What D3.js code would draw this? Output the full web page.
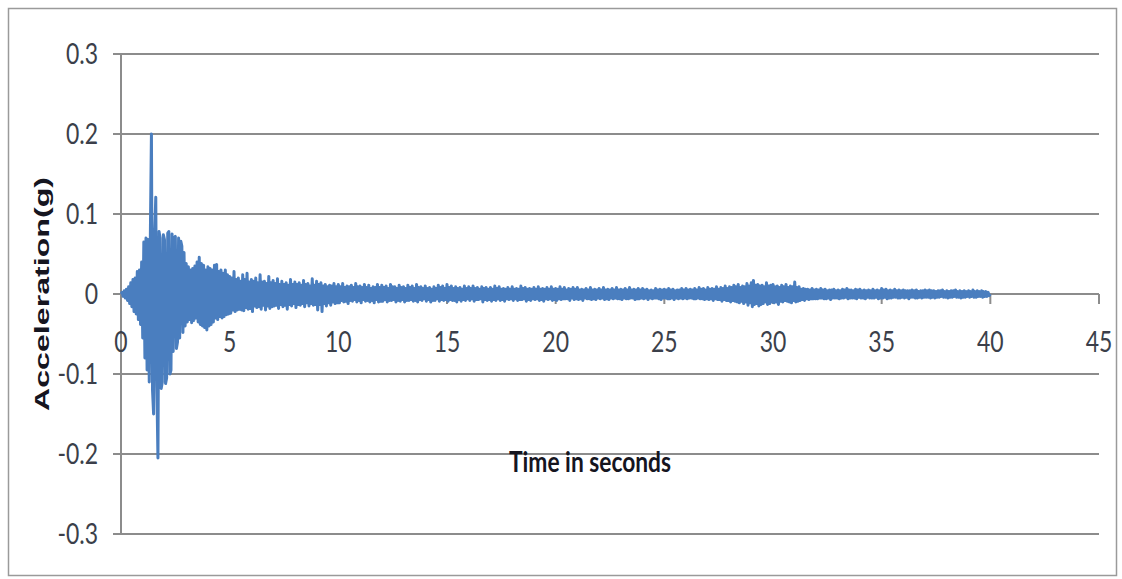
<!DOCTYPE html>
<html>
<head>
<meta charset="utf-8">
<script src="https://cdn.jsdelivr.net/npm/d3@7"></script>
<style>
  body { margin: 0; background: #fff; }
  svg { display: block; }
</style>
</head>
<body>
<svg width="1122" height="579"></svg>
<script>
const   svg = d3.select("svg"),
        width = +svg.attr("width"),
        height = +svg.attr("height");

// sample step in seconds
const dt = 0.05;
// acceleration in milli-g, one row per second (20 samples), last value at 40.0 s
const accel = [
    0, 2, -3, 4, -5, 6, -8, 9, -12, 14, -16, 18, -22, 20, -25, 28, -32, 30, -38, 40,
    -55, 65, -80, 70, -95, 68, -110, 72, 200, -120, -150, 75, 121, -115, -205, 78, 70, -118, -110, 74,
    68, -112, -105, 76, 78, -100, -95, 75, -72, 70, 72, -68, -60, 70, -55, 66, 60, -48, 52, -40,
    38, -35, 34, -32, 30, -36, 32, -33, 35, -30, 40, -35, 46, -38, 38, -40, 36, -42, 30, -45,
    34, -40, 32, -38, 30, -35, 36, -30, 37, -32, 28, -28, 30, -30, 26, -28, 30, -26, 24, -25,
    22, -24, 20, -20, 28, -22, 18, -20, 20, -19, 16, -20, 24, -21, 18, -17, 26, -19, 15, -18,
    18, -22, 16, -15, 20, -17, 14, -16, 24, -19, 15, -14, 16, -20, 13, -15, 22, -18, 14, -16,
    17, -15, 13, -14, 19, -18, 12, -13, 16, -16, 12, -14, 14, -19, 11, -13, 18, -15, 12, -12,
    15, -17, 12, -13, 14, -14, 11, -12, 17, -16, 12, -11, 13, -15, 10, -12, 19, -14, 11, -13,
    16, -20, 12, -13, 14, -22, 10, -12, 12, -15, 9, -11, 11, -14, 10, -10, 13, -12, 9, -11,
    12, -11, 9, -8, 13, -10, 8, -9, 10, -12, 9, -8, 11, -9, 8, -7, 13, -10, 9, -8,
    10, -11, 8, -7, 12, -9, 8, -8, 11, -10, 7, -8, 9, -11, 8, -7, 12, -10, 8, -9,
    11, -9, 8, -7, 10, -10, 7, -8, 12, -8, 9, -7, 9, -10, 7, -8, 11, -9, 8, -7,
    9, -10, 7, -8, 11, -8, 8, -7, 10, -9, 7, -8, 12, -10, 8, -7, 9, -8, 7, -6,
    10, -9, 7, -7, 8, -10, 6, -8, 9, -8, 7, -6, 11, -9, 8, -7, 10, -8, 7, -7,
    12, -9, 8, -7, 10, -8, 7, -8, 9, -10, 7, -7, 8, -9, 6, -7, 10, -8, 7, -6,
    9, -8, 7, -6, 10, -9, 7, -7, 8, -7, 6, -6, 9, -10, 7, -7, 8, -8, 6, -7,
    8, -9, 6, -7, 10, -8, 7, -6, 9, -8, 6, -7, 7, -9, 6, -6, 8, -7, 6, -6,
    9, -8, 6, -6, 7, -8, 6, -7, 10, -7, 7, -6, 8, -9, 6, -7, 7, -8, 6, -6,
    8, -7, 6, -6, 9, -8, 6, -7, 7, -9, 6, -6, 8, -7, 6, -6, 9, -8, 6, -7,
    7, -8, 6, -6, 9, -7, 6, -6, 8, -6, 5, -6, 7, -8, 6, -5, 8, -7, 6, -6,
    8, -7, 5, -6, 6, -8, 5, -5, 7, -6, 5, -6, 8, -7, 5, -6, 6, -7, 5, -5,
    7, -6, 5, -5, 8, -7, 5, -6, 6, -7, 5, -5, 7, -6, 5, -5, 8, -6, 5, -6,
    6, -7, 5, -5, 7, -6, 5, -6, 8, -5, 5, -5, 6, -7, 5, -6, 7, -6, 5, -5,
    7, -6, 5, -5, 6, -7, 4, -5, 5, -6, 4, -5, 7, -5, 5, -6, 6, -7, 5, -5,
    6, -5, 5, -6, 7, -6, 5, -5, 6, -7, 4, -5, 5, -6, 5, -5, 7, -6, 5, -5,
    7, -6, 5, -5, 6, -5, 5, -6, 7, -6, 5, -5, 8, -6, 6, -6, 7, -7, 5, -6,
    8, -7, 6, -6, 7, -8, 6, -6, 9, -7, 6, -7, 8, -9, 7, -7, 10, -8, 7, -8,
    9, -10, 8, -8, 11, -9, 9, -10, 12, -11, 8, -9, 10, -12, 9, -10, 13, -14, 10, -11,
    14, -16, 17, -13, 11, -12, 12, -15, 10, -13, 11, -12, 9, -10, 14, -13, 10, -12, 11, -10,
    12, -11, 9, -10, 10, -13, 8, -9, 11, -10, 9, -8, 12, -9, 8, -10, 10, -11, 9, -8,
    15, -10, 8, -9, 9, -8, 6, -7, 7, -8, 6, -6, 6, -7, 5, -6, 7, -6, 5, -6,
    6, -6, 5, -5, 7, -5, 5, -6, 6, -6, 4, -5, 5, -7, 5, -5, 6, -5, 4, -5,
    5, -6, 4, -5, 6, -5, 5, -4, 7, -6, 5, -5, 5, -5, 4, -5, 6, -6, 5, -4,
    6, -5, 4, -5, 5, -6, 4, -4, 5, -5, 4, -5, 6, -5, 4, -4, 5, -6, 4, -5,
    7, -5, 5, -4, 6, -6, 4, -5, 5, -5, 4, -4, 6, -4, 4, -5, 5, -5, 4, -4,
    5, -5, 4, -4, 4, -6, 4, -4, 5, -4, 4, -5, 5, -5, 3, -4, 4, -5, 4, -4,
    5, -4, 4, -4, 5, -5, 4, -4, 4, -5, 3, -4, 4, -4, 4, -3, 5, -4, 3, -4,
    4, -5, 3, -4, 4, -4, 4, -3, 5, -4, 3, -4, 4, -5, 3, -4, 4, -4, 3, -3,
    4, -4, 3, -3, 5, -4, 3, -4, 4, -3, 3, -3, 4, -4, 3, -3, 3, -3, 2, -2,
    0
];

const xTicks = [0, 5, 10, 15, 20, 25, 30, 35, 40, 45];
const yTicks = [-0.3, -0.2, -0.1, 0, 0.1, 0.2, 0.3];
const yTickLabels = ["-0.3", "-0.2", "-0.1", "0", "0.1", "0.2", "0.3"];

const x = d3.scaleLinear().domain([0, 45]).range([121, 1099]);
const y = d3.scaleLinear().domain([-0.3, 0.3]).range([534, 54]);

const gridColor = "#8c8c8c";
const tickFont = "Lato, 'Open Sans', sans-serif";
const stretch = 1.25;  // picture is a bit taller than wide, text looks stretched

// outer frame
svg.append("rect")
    .attr("x", 8.5).attr("y", 8.5)
    .attr("width", 1108).attr("height", 567)
    .attr("fill", "none")
    .attr("stroke", "#9a9a9a")
    .attr("stroke-width", 1.5);

// horizontal gridlines + left ticks
svg.append("g")
    .selectAll("line")
    .data(yTicks)
    .enter().append("line")
    .attr("x1", x(0) - 8)
    .attr("x2", x(45))
    .attr("y1", d => y(d))
    .attr("y2", d => y(d))
    .attr("stroke", gridColor)
    .attr("stroke-width", 2);

// y axis line
svg.append("line")
    .attr("x1", x(0)).attr("x2", x(0))
    .attr("y1", y(0.3)).attr("y2", y(-0.3))
    .attr("stroke", gridColor)
    .attr("stroke-width", 2);

// y tick labels
svg.append("g")
    .selectAll("text")
    .data(yTicks)
    .enter().append("text")
    .attr("transform", d => `translate(98,${y(d)}) scale(1,${stretch})`)
    .attr("dy", "0.36em")
    .attr("text-anchor", "end")
    .attr("font-family", tickFont)
    .attr("font-size", 23)
    .attr("fill", "#3b3f4a")
    .text((d, i) => yTickLabels[i]);

// x axis tick marks (on the zero line)
svg.append("g")
    .selectAll("line")
    .data(xTicks)
    .enter().append("line")
    .attr("x1", d => x(d)).attr("x2", d => x(d))
    .attr("y1", y(0)).attr("y2", y(0) + 10)
    .attr("stroke", gridColor)
    .attr("stroke-width", 2);

// x tick labels
svg.append("g")
    .selectAll("text")
    .data(xTicks)
    .enter().append("text")
    .attr("transform", d => `translate(${x(d)},${y(0) + 48}) scale(1,${stretch})`)
    .attr("dy", "0.36em")
    .attr("text-anchor", "middle")
    .attr("font-family", tickFont)
    .attr("font-size", 23)
    .attr("fill", "#3b3f4a")
    .text(d => d);

// signal
const line = d3.line()
    .x((d, i) => x(i * dt))
    .y(d => y(d / 1000));

svg.append("path")
    .datum(accel)
    .attr("d", line)
    .attr("fill", "none")
    .attr("stroke", "#4a7ebf")
    .attr("stroke-width", 3)
    .attr("stroke-linejoin", "round");

// axis titles
svg.append("text")
    .attr("transform", `translate(590,462) scale(1,${stretch})`)
    .attr("dy", "0.36em")
    .attr("text-anchor", "middle")
    .attr("font-family", tickFont)
    .attr("font-weight", "bold")
    .attr("font-size", 23)
    .attr("textLength", 162)
    .attr("lengthAdjust", "spacingAndGlyphs")
    .attr("fill", "#15151f")
    .text("Time in seconds");

svg.append("text")
    .attr("transform", "translate(49,294) rotate(-90)")
    .attr("text-anchor", "middle")
    .attr("font-family", "'Liberation Sans', Arial, sans-serif")
    .attr("font-weight", "bold")
    .attr("font-size", 21)
    .attr("textLength", 234)
    .attr("lengthAdjust", "spacingAndGlyphs")
    .attr("fill", "#15151f")
    .text("Acceleration(g)");
</script>
</body>
</html>
